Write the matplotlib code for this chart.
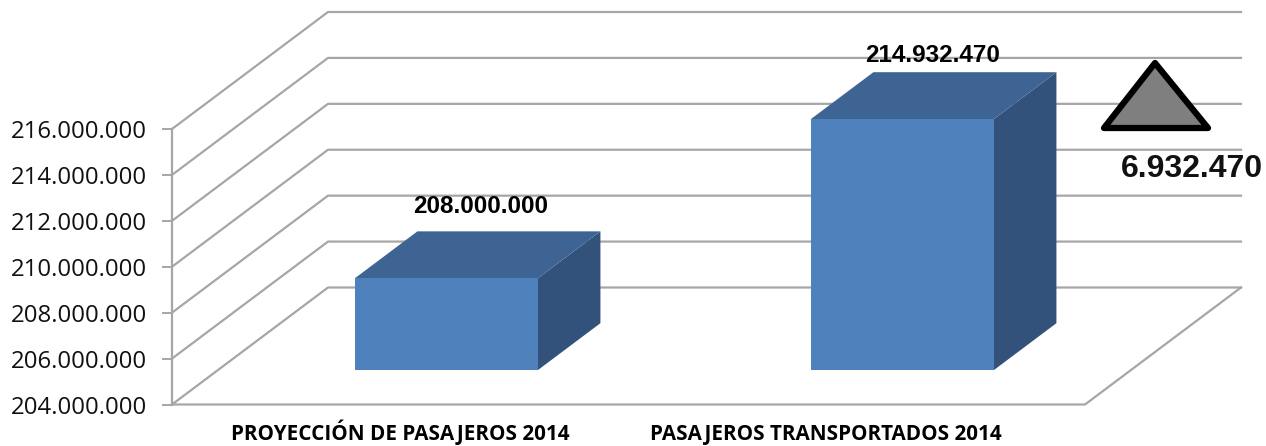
#!/usr/bin/env python3
"""Passengers 2014: projected vs transported, fake 3D column chart."""

import matplotlib
matplotlib.use('Agg')
import matplotlib.pyplot as plt
from matplotlib.patches import Polygon

# ============================================================================
# DATA
# ============================================================================

categories = ['PROYECCIÓN DE PASAJEROS 2014', 'PASAJEROS TRANSPORTADOS 2014']
values = [208000000, 214932470]
value_labels = ['208.000.000', '214.932.470']
ticks = [204000000, 206000000, 208000000, 210000000, 212000000, 214000000, 216000000]
tick_labels = ['204.000.000', '206.000.000', '208.000.000', '210.000.000',
               '212.000.000', '214.000.000', '216.000.000']
difference_label = '6.932.470'

# ============================================================================
# PROJECTION (pixels of the 1266x446 picture)
# ============================================================================

W, H = 1266, 446
FRONT_X0, FRONT_X1 = 172, 1085
Y_BASE, Y_TOP = 404.5, 129
DEPTH_X, DEPTH_Y = 156, -117
BAR_WIDTH = 183
BAR_CENTERS = [400.5, 856.5]
CATEGORY_X = [400, 826]
LABEL_X = [481, 933]
LABEL_GAP = [27, 19]
GRID = '#a6a6a6'


def val_y(v):
    return Y_BASE + (v - ticks[0]) / (ticks[-1] - ticks[0]) * (Y_TOP - Y_BASE)


def project(x, v, depth):
    """Screen position of a point at front x, value v and depth 0..1."""
    return x + DEPTH_X * depth, val_y(v) + DEPTH_Y * depth


fig = plt.figure(figsize=(W / 100, H / 100), dpi=100)
ax = fig.add_axes([0, 0, 1, 1])
ax.set_xlim(0, W)
ax.set_ylim(H, 0)
ax.axis('off')

# walls and floor
for t in ticks:
    x0, y0 = project(FRONT_X0, t, 0)
    x1, y1 = project(FRONT_X0, t, 1)
    x2, y2 = project(FRONT_X1, t, 1)
    ax.plot([x0, x1, x2], [y0, y1, y2], color=GRID, lw=1.6, zorder=1)
    ax.plot([x0 - 9, x0], [y0, y0], color=GRID, lw=1.4, zorder=1)
ax.plot([FRONT_X0, FRONT_X0], [val_y(ticks[0]), val_y(ticks[-1])], color=GRID, lw=1.6, zorder=1)
fx, fy = project(FRONT_X1, ticks[0], 0)
bx, by = project(FRONT_X1, ticks[0], 1)
ax.plot([FRONT_X0, fx, bx], [fy, fy, by], color=GRID, lw=1.6, zorder=1)

for lab, t in zip(tick_labels, ticks):
    ax.text(147, val_y(t) + 3, lab, ha='right', va='center', fontsize=17.3,
            family='Open Sans', color='#111111')

# bars
D0, D1 = 0.293, 0.695
for i, (center, v) in enumerate(zip(BAR_CENTERS, values)):
    xl, xr = center - BAR_WIDTH / 2, center + BAR_WIDTH / 2
    front = [project(xl, ticks[0], D0), project(xr, ticks[0], D0),
             project(xr, v, D0), project(xl, v, D0)]
    top = [project(xl, v, D0), project(xr, v, D0), project(xr, v, D1), project(xl, v, D1)]
    side = [project(xr, ticks[0], D0), project(xr, ticks[0], D1),
            project(xr, v, D1), project(xr, v, D0)]
    ax.add_patch(Polygon(side, closed=True, fc='#32527c', ec='none', zorder=3))
    ax.add_patch(Polygon(top, closed=True, fc='#3e6494', ec='none', zorder=3))
    ax.add_patch(Polygon(front, closed=True, fc='#4f81bd', ec='none', zorder=4))
    ly = project(center, v, D1)[1]
    ax.text(LABEL_X[i], ly - LABEL_GAP[i] + 2, value_labels[i], ha='center', va='center',
            fontsize=17.5, family='Liberation Sans', weight='bold', color='black', zorder=5)
    ax.text(CATEGORY_X[i], 440, categories[i], ha='center', va='baseline', fontsize=14.85,
            family='Open Sans', weight='bold', color='black', zorder=5)

# difference marker
ax.add_patch(Polygon([(1155, 63), (1208, 128), (1104, 128)], closed=True,
                     fc='#7f7f7f', ec='black', lw=4.5, joinstyle='round', zorder=6))
ax.text(1192, 169, difference_label, ha='center', va='center', fontsize=23,
        family='Liberation Sans', weight='bold', color='#111111', zorder=6)

fig.savefig('out.png', dpi=100)
